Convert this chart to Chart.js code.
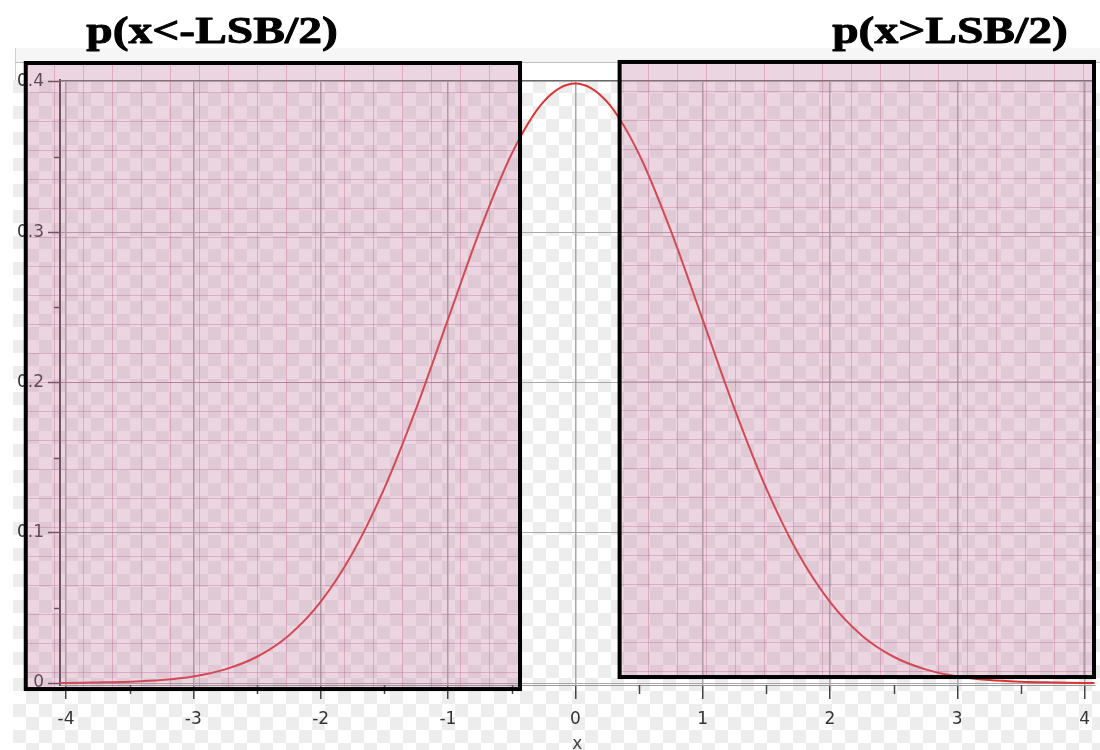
<!DOCTYPE html>
<html>
<head>
<meta charset="utf-8">
<script src="https://cdn.jsdelivr.net/npm/chart.js@4.4.1/dist/chart.umd.min.js"></script>
<style>
  html, body { margin: 0; padding: 0; background: #fff; }
  #wrap { width: 1100px; height: 750px; position: relative; }
</style>
</head>
<body>
<div id="wrap"><canvas id="pdfChart"></canvas></div>
<script>
// values
const xValues = [-4.05, -4, -3.75, -3.5, -3.25, -3, -2.75, -2.5, -2.25, -2, -1.75, -1.5, -1.25, -1, -0.75, -0.5, -0.25,
  0, 0.25, 0.5, 0.75, 1, 1.25, 1.5, 1.75, 2, 2.25, 2.5, 2.75, 3, 3.25, 3.5, 3.75, 4, 4.08];
const densityValues = [0.0001, 0.0001, 0.0004, 0.0009, 0.002, 0.0044, 0.0091, 0.0175, 0.0317, 0.054, 0.0863, 0.1295, 0.1826, 0.242, 0.3011, 0.3521, 0.3867,
  0.3989, 0.3867, 0.3521, 0.3011, 0.242, 0.1826, 0.1295, 0.0863, 0.054, 0.0317, 0.0175, 0.0091, 0.0044, 0.002, 0.0009, 0.0004, 0.0001, 0.0001];

const xMajorTicks = [-4, -3, -2, -1, 0, 1, 2, 3, 4];
const xMinorTicks = [-3.5, -2.5, -1.5, -0.5, 0.5, 1.5, 2.5, 3.5];
const yMajorTicks = [0, 0.1, 0.2, 0.3, 0.4];
const yMinorTicks = [0.05, 0.15, 0.25, 0.35];

const regionLabels = ["p(x<-LSB/2)", "p(x>LSB/2)"];
const regionX = [[-4.316, -0.434], [0.348, 4.074]];
const regionY = [[-0.004, 0.4126], [0.004, 0.4133]];

const axisFont = { family: "'DejaVu Sans', sans-serif", size: 17 };

const backdrop = {
  id: 'backdrop',
  beforeDraw(chart) {
    const ctx = chart.ctx, w = chart.width, h = chart.height;
    ctx.save();
    ctx.fillStyle = '#fff';
    ctx.fillRect(0, 0, w, h);
    // window strip above the plot
    ctx.fillStyle = '#f6f6f6';
    ctx.fillRect(15, 48, w - 15, 14);
    ctx.strokeStyle = '#d0d0d0';
    ctx.lineWidth = 1;
    ctx.beginPath(); ctx.moveTo(15.5, 48); ctx.lineTo(15.5, 80); ctx.stroke();
    ctx.strokeStyle = '#bdbdbd';
    ctx.beginPath(); ctx.moveTo(15, 62.5); ctx.lineTo(w, 62.5); ctx.stroke();
    // transparency checker
    const s = 13;
    ctx.fillStyle = '#ededed';
    for (let y = 80; y < h; y += s) {
      for (let x = 13; x < w; x += s) {
        if ((Math.floor(x / s) + Math.floor(y / s)) % 2) ctx.fillRect(x, y, s, s);
      }
    }
    ctx.restore();
  }
};

function drawRegion(ctx, left, top, right, bottom) {
  ctx.save();
  ctx.fillStyle = 'rgba(190,125,160,0.32)';
  ctx.fillRect(left, top, right - left, bottom - top);
  ctx.beginPath();
  ctx.rect(left, top, right - left, bottom - top);
  ctx.clip();
  ctx.strokeStyle = 'rgba(195,80,140,0.32)';
  ctx.lineWidth = 1;
  ctx.beginPath();
  for (let y = top + 29; y < bottom; y += 29) {
    ctx.moveTo(left, Math.round(y) + 0.5); ctx.lineTo(right, Math.round(y) + 0.5);
  }
  for (let x = left + 28; x < right; x += 29) {
    ctx.moveTo(Math.round(x) + 0.5, top); ctx.lineTo(Math.round(x) + 0.5, bottom);
  }
  ctx.stroke();
  ctx.restore();
  ctx.save();
  ctx.strokeStyle = '#000';
  ctx.lineWidth = 4;
  ctx.strokeRect(left, top, right - left, bottom - top);
  ctx.restore();
}

const overlays = {
  id: 'overlays',
  afterDraw(chart) {
    const ctx = chart.ctx;
    const xs = chart.scales.x, ys = chart.scales.y;
    const area = chart.chartArea;

    // frame line on top of the plot
    ctx.save();
    ctx.strokeStyle = '#6a6a6a';
    ctx.lineWidth = 1;
    ctx.beginPath();
    ctx.moveTo(area.left, area.top + 0.5); ctx.lineTo(area.right, area.top + 0.5);
    ctx.stroke();

    // minor ticks
    ctx.strokeStyle = '#444';
    ctx.lineWidth = 1.5;
    ctx.beginPath();
    xMinorTicks.forEach(v => {
      const px = Math.round(xs.getPixelForValue(v)) + 0.5;
      ctx.moveTo(px, area.bottom); ctx.lineTo(px, area.bottom + 9);
    });
    yMinorTicks.forEach(v => {
      const py = Math.round(ys.getPixelForValue(v)) + 0.5;
      ctx.moveTo(area.left - 6, py); ctx.lineTo(area.left, py);
    });
    ctx.stroke();
    ctx.restore();

    // shaded tail regions
    regionX.forEach((rx, i) => {
      drawRegion(ctx,
        xs.getPixelForValue(rx[0]), ys.getPixelForValue(regionY[i][1]),
        xs.getPixelForValue(rx[1]), ys.getPixelForValue(regionY[i][0]));
    });

    // region titles
    ctx.save();
    ctx.fillStyle = '#000';
    ctx.strokeStyle = '#000';
    ctx.lineWidth = 0.9;
    ctx.lineJoin = 'round';
    ctx.font = "bold 38px 'Liberation Serif', 'Times New Roman', serif";
    ctx.textAlign = 'center';
    ctx.textBaseline = 'alphabetic';
    [[212, regionLabels[0]], [950, regionLabels[1]]].forEach(([cx, label]) => {
      ctx.save();
      ctx.translate(cx, 43);
      ctx.scale(1.25, 1);
      ctx.fillText(label, 0, 0);
      ctx.strokeText(label, 0, 0);
      ctx.restore();
    });
    ctx.restore();
  }
};

new Chart(document.getElementById('pdfChart'), {
  type: 'scatter',
  data: {
    datasets: [{
      label: 'N(0,1)',
      data: xValues.map((x, i) => ({ x: x, y: densityValues[i] })),
      showLine: true,
      borderColor: '#dd3333',
      borderWidth: 2,
      pointRadius: 0,
      cubicInterpolationMode: 'monotone',
      fill: false
    }]
  },
  options: {
    responsive: true,
    maintainAspectRatio: false,
    animation: false,
    layout: { padding: { top: 80, left: 0, right: 0, bottom: 0 } },
    plugins: { legend: { display: false }, tooltip: { enabled: false } },
    scales: {
      x: {
        type: 'linear',
        min: -4.047,
        max: 4.078,
        afterBuildTicks: s => { s.ticks = xMajorTicks.map(v => ({ value: v })); },
        afterFit: s => { s.height = 65; },
        ticks: {
          color: '#333',
          font: axisFont,
          padding: 10,
          maxRotation: 0,
          callback: v => String(v)
        },
        grid: {
          color: '#a8a8a8',
          lineWidth: 1.5,
          tickLength: 14,
          tickColor: '#444',
          tickWidth: 1.5
        },
        border: { color: '#9a9a9a', width: 1 },
        title: {
          display: true,
          text: 'x',
          color: '#444',
          font: axisFont,
          padding: { top: 0, bottom: -5 }
        }
      },
      y: {
        type: 'linear',
        min: -0.0013,
        max: 0.4013,
        afterBuildTicks: s => { s.ticks = yMajorTicks.map(v => ({ value: v })); },
        afterFit: s => { s.width = 60; },
        ticks: {
          color: '#333',
          font: axisFont,
          padding: 4,
          callback: v => String(v)
        },
        grid: {
          color: '#a8a8a8',
          lineWidth: 1,
          tickLength: 12,
          tickColor: '#444',
          tickWidth: 1.5
        },
        border: { color: '#444', width: 2 }
      }
    }
  },
  plugins: [backdrop, overlays]
});
</script>
</body>
</html>
